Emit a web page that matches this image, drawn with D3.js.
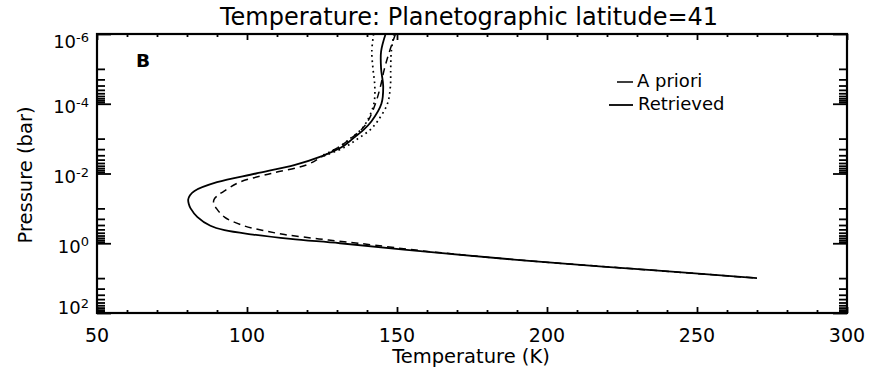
<!DOCTYPE html>
<html>
<head>
<meta charset="utf-8">
<script src="https://cdn.jsdelivr.net/npm/d3@7"></script>
<style>
  html, body { margin: 0; padding: 0; background: #fff; }
  svg { display: block; }
  text { font-family: "DejaVu Sans", sans-serif; fill: #000; }
</style>
</head>
<body>
<svg id="chart" width="870" height="369"></svg>
<script>
// ---------- data ----------
const titleText = "Temperature: Planetographic latitude=41";
const xLabel = "Temperature (K)";
const yLabel = "Pressure (bar)";
const panelLabel = "B";
const legendLabels = ["A priori", "Retrieved"];

const xTickValues = [50, 100, 150, 200, 250, 300];
const xMinorValues = [60,70,80,90,110,120,130,140,160,170,180,190,210,220,230,240,260,270,280,290];
const yMajorExponents = [-6, -4, -2, 0, 2];
const yMinorExponents = [-5, -3, -1, 1];

// pressure grid (bar)
const pressure = [1e-6, 3.162e-6, 1e-5, 3.162e-5, 1e-4, 3.162e-4, 5.623e-4, 1e-3, 1.778e-3,
  3.162e-3, 5.623e-3, 1e-2, 1.778e-2, 3.162e-2, 4.217e-2, 5.623e-2, 7.499e-2, 0.1, 0.1778,
  0.3162, 0.4217, 0.5623, 0.7499, 1, 1.778, 3.162, 5.623, 10];

const retrievedT = [146.2, 144.7, 144.7, 145.4, 144.8, 141.5, 138.8, 135.3, 131.5,
  125.0, 116.0, 103.0, 90.0, 82.5, 81.0, 80.4, 80.6, 81.2, 83.5,
  87.8, 92.5, 102.0, 114.5, 131.0, 160.5, 193.0, 231.5, 270.0];

const aprioriT = [149.5, 147.5, 145.8, 144.5, 142.8, 140.3, 138.0, 134.5, 130.5,
  125.3, 120.0, 108.0, 97.5, 92.5, 90.3, 89.0, 88.9, 89.8, 92.5,
  99.0, 105.0, 112.5, 124.0, 137.0, 162.0, 193.5, 231.5, 270.0];

const lowerErrT = [142.2, 141.6, 142.0, 142.6, 142.3, 140.0, 137.9, 134.4, 130.5,
  124.6, null, null, null, null, null, null, null, null, null,
  null, null, null, null, null, null, null, null, null];

const upperErrT = [149.0, 148.1, 147.9, 147.8, 146.8, 143.5, 141.0, 137.0, 132.5,
  125.6, null, null, null, null, null, null, null, null, null,
  null, null, null, null, null, null, null, null, null];

// ---------- layout ----------
const svg = d3.select("#chart");
const L = 97, R = 847, T = 34, B = 313;

const x = d3.scaleLinear().domain([50, 300]).range([L, R]);
const y = d3.scaleLog().domain([1e-6, 1e2]).range([T, B]);

const yMajor = yMajorExponents.map(e => Math.pow(10, e));
const yMinor = [];
yMinorExponents.forEach(e => { for (let k = 1; k <= 9; k++) yMinor.push(k * Math.pow(10, e)); });

function styleAxis(g) {
  g.select(".domain").remove();
  g.selectAll(".tick line").attr("stroke", "#000").attr("stroke-width", 1.8);
  g.selectAll(".tick text").remove();
}

// x ticks bottom & top
svg.append("g").attr("transform", `translate(0,${B})`)
  .call(d3.axisBottom(x).tickValues(xTickValues).tickSize(-6).tickFormat("")).call(styleAxis);
svg.append("g").attr("transform", `translate(0,${B})`)
  .call(d3.axisBottom(x).tickValues(xMinorValues).tickSize(-3).tickFormat("")).call(styleAxis);
svg.append("g").attr("transform", `translate(0,${T})`)
  .call(d3.axisTop(x).tickValues(xTickValues).tickSize(-6).tickFormat("")).call(styleAxis);
svg.append("g").attr("transform", `translate(0,${T})`)
  .call(d3.axisTop(x).tickValues(xMinorValues).tickSize(-3).tickFormat("")).call(styleAxis);

// y ticks left & right
svg.append("g").attr("transform", `translate(${L},0)`)
  .call(d3.axisLeft(y).tickValues(yMajor).tickSize(-14).tickFormat("")).call(styleAxis);
svg.append("g").attr("transform", `translate(${L},0)`)
  .call(d3.axisLeft(y).tickValues(yMinor).tickSize(-8).tickFormat("")).call(styleAxis);
svg.append("g").attr("transform", `translate(${R},0)`)
  .call(d3.axisRight(y).tickValues(yMajor).tickSize(-14).tickFormat("")).call(styleAxis);
svg.append("g").attr("transform", `translate(${R},0)`)
  .call(d3.axisRight(y).tickValues(yMinor).tickSize(-8).tickFormat("")).call(styleAxis);

// frame
svg.append("rect").attr("x", L).attr("y", T).attr("width", R - L).attr("height", B - T)
  .attr("fill", "none").attr("stroke", "#000").attr("stroke-width", 2.2);

// x tick labels
svg.append("g").selectAll("text").data(xTickValues).join("text")
  .attr("x", d => x(d)).attr("y", 342).attr("text-anchor", "middle")
  .style("font-size", "19px").text(d => d);

// y tick labels with superscripts
const yl = svg.append("g").selectAll("text").data(yMajorExponents).join("text")
  .attr("x", 89)
  .attr("y", (d, i) => y(Math.pow(10, d)) + (i === 0 ? 14 : (i === yMajorExponents.length - 1 ? 1 : 9.5)))
  .attr("text-anchor", "end")
  .style("font-size", "18px");
yl.append("tspan").text("10");
yl.append("tspan").attr("dy", -6.5).style("font-size", "13px").text(d => String(d));

// axis titles
svg.append("text").attr("x", 471).attr("y", 363).attr("text-anchor", "middle")
  .style("font-size", "19.5px").text(xLabel);
svg.append("text").attr("transform", "translate(32,175) rotate(-90)").attr("text-anchor", "middle")
  .style("font-size", "19.5px").text(yLabel);

// title
svg.append("text").attr("x", 469).attr("y", 25).attr("text-anchor", "middle")
  .style("font-size", "24px").text(titleText);

// panel label
svg.append("text").attr("x", 136).attr("y", 67).style("font-size", "18.5px")
  .style("font-weight", "bold").text(panelLabel);

// curves
svg.append("clipPath").attr("id", "clip").append("rect")
  .attr("x", L).attr("y", T).attr("width", R - L).attr("height", B - T);

function lineFor(arr) {
  return d3.line()
    .defined((d, i) => arr[i] !== null)
    .x((d, i) => x(arr[i]))
    .y(d => y(d))
    .curve(d3.curveCatmullRom.alpha(0.5))(pressure);
}

const plot = svg.append("g").attr("clip-path", "url(#clip)");
plot.append("path").attr("d", lineFor(lowerErrT)).attr("fill", "none").attr("stroke", "#000")
  .attr("stroke-width", 1.7).attr("stroke-dasharray", "1.7,3.6");
plot.append("path").attr("d", lineFor(upperErrT)).attr("fill", "none").attr("stroke", "#000")
  .attr("stroke-width", 1.7).attr("stroke-dasharray", "1.7,3.6");
plot.append("path").attr("d", lineFor(aprioriT)).attr("fill", "none").attr("stroke", "#000")
  .attr("stroke-width", 1.5).attr("stroke-dasharray", "7,5");
plot.append("path").attr("d", lineFor(retrievedT)).attr("fill", "none").attr("stroke", "#000")
  .attr("stroke-width", 1.8);

// legend
svg.append("line").attr("x1", 609).attr("x2", 633).attr("y1", 82).attr("y2", 82)
  .attr("stroke", "#000").attr("stroke-width", 1.5).attr("stroke-dasharray", "0,8,16,0");
svg.append("line").attr("x1", 609).attr("x2", 633).attr("y1", 105).attr("y2", 105)
  .attr("stroke", "#000").attr("stroke-width", 1.8);
svg.append("text").attr("x", 637).attr("y", 87).style("font-size", "18px").text(legendLabels[0]);
svg.append("text").attr("x", 638).attr("y", 110).style("font-size", "18px").text(legendLabels[1]);
</script>
</body>
</html>
